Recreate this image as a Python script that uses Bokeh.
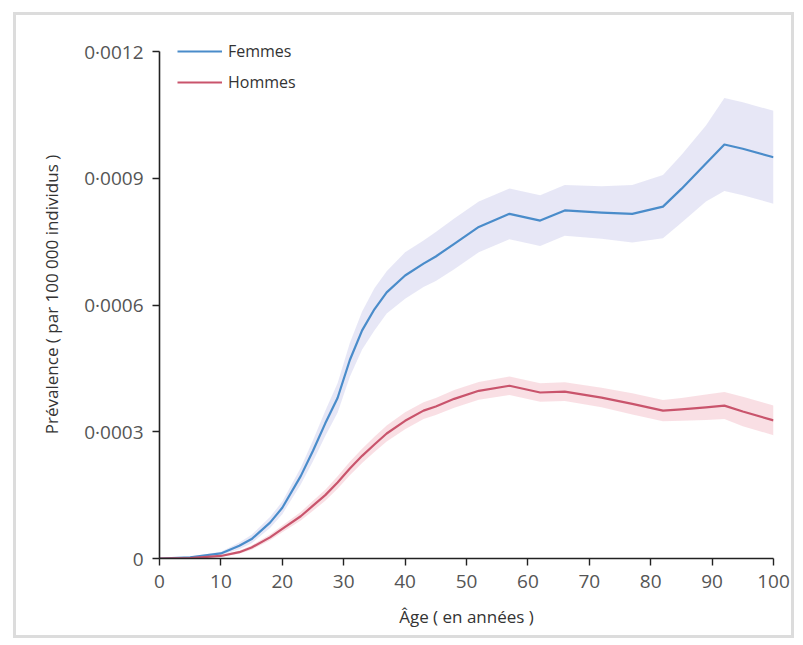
from bokeh.plotting import figure
from bokeh.models import ColumnDataSource, FixedTicker, Legend, LegendItem, Range1d
from bokeh.embed import file_html
from bokeh.resources import INLINE

ages = [0, 5, 10, 13, 15, 18, 20, 23, 25, 27, 29, 31, 33, 35, 37, 40, 43, 45, 48, 52,
        57, 62, 66, 72, 77, 82, 85, 89, 92, 95, 100]

femmes = [0, 0.000003, 0.000012, 0.00003, 0.000046, 0.000085, 0.00012, 0.000195, 0.000255,
          0.00032, 0.00038, 0.00047, 0.00054, 0.00059, 0.00063, 0.00067, 0.000698, 0.000715,
          0.000745, 0.000785, 0.000816, 0.0008, 0.000824, 0.000819, 0.000816, 0.000833,
          0.000875, 0.000935, 0.00098, 0.00097, 0.00095]
femmes_low = [0, 0.000001, 0.000008, 0.000022, 0.000036, 0.000072, 0.000105, 0.000175, 0.00023,
              0.00029, 0.000345, 0.00043, 0.000495, 0.00054, 0.00058, 0.000615, 0.000643,
              0.000657, 0.000685, 0.000725, 0.000756, 0.00074, 0.000764, 0.000757, 0.000748,
              0.000758, 0.000795, 0.000845, 0.00087, 0.00086, 0.00084]
femmes_high = [0, 0.000005, 0.000016, 0.000038, 0.000056, 0.000098, 0.000135, 0.000215, 0.00028,
               0.00035, 0.000415, 0.00051, 0.000585, 0.00064, 0.00068, 0.000725, 0.000753,
               0.000773, 0.000805, 0.000845, 0.000876, 0.00086, 0.000884, 0.000881, 0.000884,
               0.000908, 0.000955, 0.001025, 0.00109, 0.00108, 0.00106]

hommes = [0, 0.000001, 0.000006, 0.000015, 0.000026, 0.00005, 0.00007, 0.0001, 0.000125,
          0.00015, 0.00018, 0.000213, 0.000243, 0.00027, 0.000296, 0.000326, 0.00035, 0.00036,
          0.000378, 0.000397, 0.000409, 0.000393, 0.000395, 0.000381, 0.000366, 0.00035,
          0.000353, 0.000358, 0.000362, 0.000348, 0.000327]
hommes_low = [0, 0.0, 0.000004, 0.000011, 0.000021, 0.000043, 0.000062, 0.00009, 0.000113,
              0.000137, 0.000165, 0.000197, 0.000226, 0.000252, 0.000277, 0.000306, 0.00033,
              0.00034, 0.000357, 0.000376, 0.000387, 0.000371, 0.000373, 0.000358, 0.000341,
              0.000325, 0.000326, 0.000328, 0.00033, 0.000313, 0.000292]
hommes_high = [0, 0.000002, 0.000008, 0.000019, 0.000031, 0.000057, 0.000078, 0.00011, 0.000137,
               0.000163, 0.000195, 0.000229, 0.00026, 0.000288, 0.000315, 0.000346, 0.00037,
               0.00038, 0.000399, 0.000418, 0.000431, 0.000415, 0.000417, 0.000404, 0.000391,
               0.000375, 0.00038, 0.000388, 0.000394, 0.000383, 0.000362]

y_ticks = [0, 0.0003, 0.0006, 0.0009, 0.0012]
y_tick_labels = ["0", "0·0003", "0·0006", "0·0009", "0·0012"]
x_ticks = [0, 10, 20, 30, 40, 50, 60, 70, 80, 90, 100]

series_names = ["Femmes", "Hommes"]
line_colors = ["#4a8cca", "#c9546c"]
band_colors = ["#e6e6f5", "#f9dde3"]

src = ColumnDataSource(dict(age=ages, f=femmes, fl=femmes_low, fh=femmes_high,
                            h=hommes, hl=hommes_low, hh=hommes_high))

p = figure(width=781, height=626, output_backend="svg", toolbar_location=None,
           x_range=Range1d(0, 100), y_range=Range1d(0, 0.00125),
           min_border_left=143, min_border_right=24, min_border_top=15, min_border_bottom=83)
p.styles = {"border": "3px solid #dcdcdc", "margin-left": "13px", "margin-top": "12px"}
p.outline_line_color = None
p.grid.visible = False
p.background_fill_color = "white"
p.border_fill_color = "white"

p.varea(x="age", y1="fl", y2="fh", source=src, fill_color=band_colors[0], fill_alpha=0.95)
p.varea(x="age", y1="hl", y2="hh", source=src, fill_color=band_colors[1], fill_alpha=0.95)
rf = p.line(x="age", y="f", source=src, line_color=line_colors[0], line_width=2.2,
            line_join="round")
rh = p.line(x="age", y="h", source=src, line_color=line_colors[1], line_width=2.2,
            line_join="round")

legend = Legend(items=[LegendItem(label=series_names[0], renderers=[rf]),
                       LegendItem(label=series_names[1], renderers=[rh])],
                location=(18, 465), orientation="vertical",
                glyph_width=45, glyph_height=20, label_height=20, spacing=9,
                padding=0, margin=0, label_standoff=6,
                label_text_font="Open Sans", label_text_font_size="16px",
                label_text_color="#333333", background_fill_alpha=0, border_line_color=None)
p.add_layout(legend)

p.xaxis.ticker = FixedTicker(ticks=x_ticks)
p.yaxis.ticker = FixedTicker(ticks=y_ticks)
p.yaxis.bounds = (0, 0.0012)
p.yaxis.major_label_overrides = {t: l for t, l in zip(y_ticks, y_tick_labels)}
p.xaxis.axis_label = "Âge ( en années )"
p.yaxis.axis_label = "Prévalence ( par 100 000 individus )"

for ax in (p.xaxis[0], p.yaxis[0]):
    ax.axis_line_color = "#222222"
    ax.axis_line_width = 1.6
    ax.major_tick_line_color = "#222222"
    ax.major_tick_line_width = 1.4
    ax.major_tick_in = 0
    ax.major_tick_out = 7
    ax.minor_tick_line_color = None
    ax.major_label_text_font = "Open Sans"
    ax.major_label_text_font_size = "19px"
    ax.major_label_text_color = "#555555"
    ax.axis_label_text_font = "Open Sans"
    ax.axis_label_text_font_size = "17px"
    ax.axis_label_text_font_style = "normal"
    ax.axis_label_text_color = "#333333"

p.yaxis.major_label_standoff = 9
p.xaxis.major_label_standoff = 9
p.yaxis.axis_label_standoff = 18
p.xaxis.axis_label_standoff = 14

open("out.html", "w").write(file_html(p, INLINE))
